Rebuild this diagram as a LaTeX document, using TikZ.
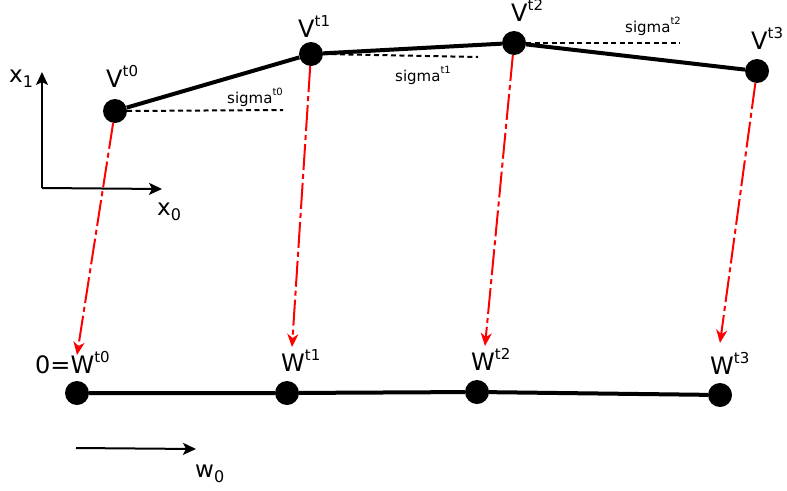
\documentclass[tikz,border=0pt]{standalone}
\usepackage{fontspec}
\setmainfont{DejaVu Sans}
\usetikzlibrary{arrows.meta,shapes.geometric}
\newcommand{\biglbl}[2]{{\fontsize{24}{24}\selectfont #1}\raisebox{11pt}{\fontsize{15}{15}\selectfont #2}}
\newcommand{\siglbl}[1]{{\fontsize{15}{15}\selectfont sigma}\raisebox{8pt}{\fontsize{10}{10}\selectfont #1}}
\newcommand{\axlbl}[2]{{\fontsize{23}{23}\selectfont #1}\raisebox{-5pt}{\fontsize{16}{16}\selectfont #2}}
\begin{document}
\begin{tikzpicture}[x=1pt,y=-1pt,
  vnode/.style={circle,fill=black,minimum size=24pt,inner sep=0pt},
  wnode/.style={circle,fill=black,minimum size=24pt,inner sep=0pt},
  txt/.style={anchor=base west,inner sep=0pt},
  thickedge/.style={line width=4pt},
  sigline/.style={line width=2pt,dash pattern=on 5pt off 3.5pt},
  proj/.style={red,line width=2pt,dash pattern=on 26pt off 4pt on 5pt off 4pt,-{Stealth[length=13pt,width=11pt,inset=4pt]}},
  axis/.style={line width=2pt,-{Stealth[length=13pt,width=12pt,inset=3pt]}}]
\useasboundingbox (0,0) rectangle (787,490);
% V nodes
\node[vnode] (V0) at (115,111) {};
\node[vnode] (V1) at (311,54) {};
\node[vnode] (V2) at (514,43) {};
\node[vnode] (V3) at (757,71) {};
% W nodes
\node[wnode] (W0) at (77,393) {};
\node[wnode] (W1) at (287,393) {};
\node[wnode] (W2) at (477,392) {};
\node[wnode] (W3) at (720,395) {};
% edges
\draw[thickedge] (V0) -- (V1) -- (V2) -- (V3);
\draw[thickedge] (W0) -- (W1) -- (W2) -- (W3);
% sigma lines
\coordinate (s0) at (283,110);
\coordinate (s1) at (478,57);
\coordinate (s2) at (680,43);
\draw[sigline] (V0.center) ++(12,0) -- (s0);
\draw[sigline] (V1.center) ++(12,0) -- (s1);
\draw[sigline] (V2.center) ++(12,0) -- (s2);
% projections
\coordinate (a0) at (77,355);
\coordinate (a1) at (292,347);
\coordinate (a2) at (485,346);
\coordinate (a3) at (720,343);
\draw[proj] (V0) -- (a0);
\draw[proj] (V1) -- (a1);
\draw[proj] (V2) -- (a2);
\draw[proj] (V3) -- (a3);
% axes
\coordinate (O) at (42,188);
\coordinate (X1) at (42,72);
\coordinate (X0) at (162,189);
\draw[axis] (O) -- (X1);
\draw[axis] (O) -- (X0);
\coordinate (w0s) at (76,448);
\coordinate (w0e) at (196,449);
\draw[axis] (w0s) -- (w0e);
% labels
\node[txt] (lV0) at (106,87) {\biglbl{V}{t0}};
\node[txt] (lV1) at (298,37) {\biglbl{V}{t1}};
\node[txt] (lV2) at (511,21) {\biglbl{V}{t2}};
\node[txt] (lV3) at (751,49) {\biglbl{V}{t3}};
\node[txt] (lW0) at (35,373) {\biglbl{0=W}{t0}};
\node[txt] (lW1) at (281,371) {\biglbl{W}{t1}};
\node[txt] (lW2) at (471,370) {\biglbl{W}{t2}};
\node[txt] (lW3) at (710,374) {\biglbl{W}{t3}};
\node[txt] (ls0) at (227,103) {\siglbl{t0}};
\node[txt] (ls1) at (395,81) {\siglbl{t1}};
\node[txt] (ls2) at (625,32) {\siglbl{t2}};
\node[txt] (lx1) at (9,82) {\axlbl{x}{1}};
\node[txt] (lx0) at (157,215) {\axlbl{x}{0}};
\node[txt] (lw0) at (195,477) {\axlbl{w}{0}};
\end{tikzpicture}
\end{document}
